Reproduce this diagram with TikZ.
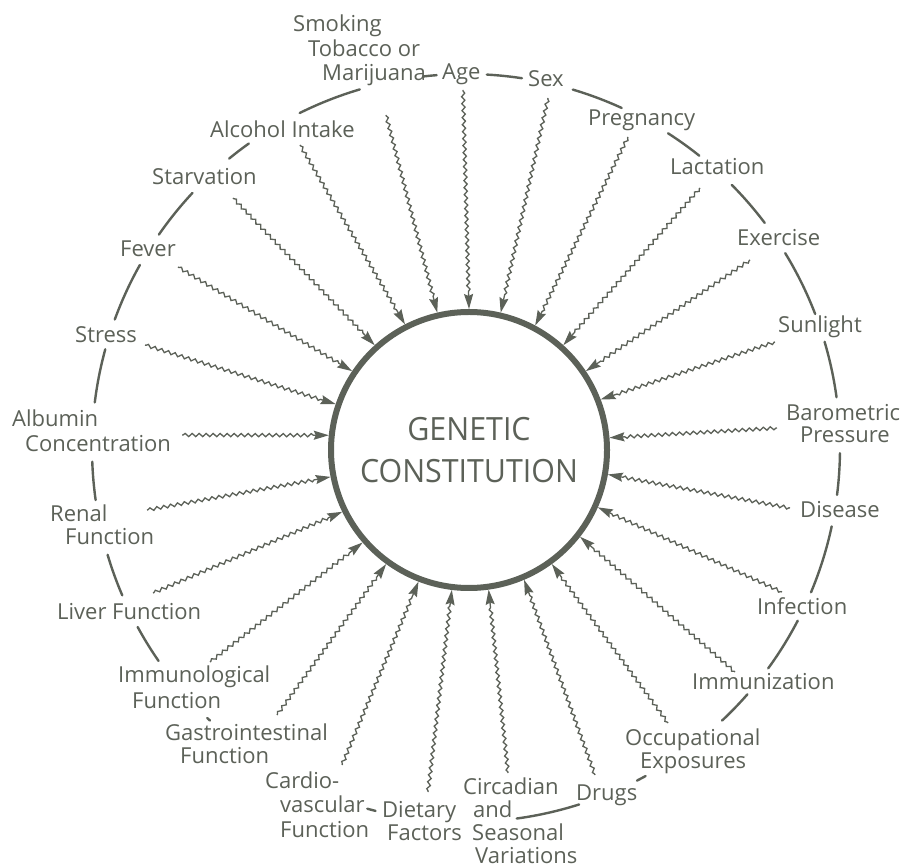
\documentclass[tikz,border=0pt]{standalone}
\usepackage{fontspec}
\setmainfont{Open Sans}
\newfontfamily\titlefont[FakeStretch=0.95]{Open Sans}
\usetikzlibrary{arrows.meta,decorations.pathmorphing,calc}
\definecolor{ink}{RGB}{92,97,88}
\begin{document}
\begin{tikzpicture}[x=1pt,y=1pt,
  lab/.style={anchor=base west, align=left, inner sep=0pt, text=ink, font=\fontsize{22}{24}\selectfont},
  wavy/.style={draw=ink, line width=1.3pt, decorate,
     decoration={snake, amplitude=1.6pt, segment length=7pt, post length=15pt, pre length=1pt},
     -{Stealth[length=15pt,width=9pt,inset=2pt]}},
  ring/.style={draw=ink, line width=2.4pt, line cap=round}]
\useasboundingbox (0,0) rectangle (901,867);
\fill[white] (0,0) rectangle (901,867);

% central circle
\node[circle, draw=ink, line width=6pt, minimum size=276pt, inner sep=0pt, text=ink,
      align=center, font=\titlefont\fontsize{32}{42}\selectfont] (gc) at (469,417) {GENETIC\\CONSTITUTION};

% labels (multi-line labels are anchored at the baseline of their last line)
\node[lab, font=\fontsize{22}{24.5}\selectfont] (smoking) at (293,786) {Smoking\\\hspace*{15pt}Tobacco or\\\hspace*{29pt}Marijuana};
\node[lab] (age) at (442,787) {Age};
\node[lab] (sex) at (528,780) {Sex};
\node[lab] (pregnancy) at (588,741) {Pregnancy};
\node[lab] (lactation) at (670,692) {Lactation};
\node[lab] (exercise) at (737,621) {Exercise};
\node[lab] (sunlight) at (778,534) {Sunlight};
\node[lab, font=\fontsize{22}{22}\selectfont] (barometric) at (786,424) {Barometric\\\hspace*{14pt}Pressure};
\node[lab] (disease) at (800,349) {Disease};
\node[lab] (infection) at (757,252) {Infection};
\node[lab] (immunization) at (692,177) {Immunization};
\node[lab, font=\fontsize{22}{23}\selectfont] (occupational) at (625,99) {Occupational\\\hspace*{15pt}Exposures};
\node[lab] (drugs) at (576,67) {Drugs};
\node[lab, font=\fontsize{22}{23}\selectfont] (circadian) at (463,4) {Circadian\\\hspace*{10pt}and\\\hspace*{9pt}Seasonal\\\hspace*{12pt}Variations};
\node[lab, font=\fontsize{22}{23}\selectfont] (dietary) at (382,27) {Dietary\\\hspace*{5pt}Factors};
\node[lab, font=\fontsize{22}{24.5}\selectfont] (cardio) at (265,30) {Cardio-\\\hspace*{15pt}vascular\\\hspace*{15pt}Function};
\node[lab, font=\fontsize{22}{23}\selectfont] (gastro) at (165,104) {Gastrointestinal\\\hspace*{15pt}Function};
\node[lab, font=\fontsize{22}{25}\selectfont] (immunological) at (118,159) {Immunological\\\hspace*{14pt}Function};
\node[lab] (liver) at (57,247) {Liver Function};
\node[lab, font=\fontsize{22}{23}\selectfont] (renal) at (50,322) {Renal\\\hspace*{15pt}Function};
\node[lab, font=\fontsize{22}{25}\selectfont] (albumin) at (12,415) {Albumin\\\hspace*{13pt}Concentration};
\node[lab] (stress) at (75,524) {Stress};
\node[lab] (fever) at (120,610) {Fever};
\node[lab] (starvation) at (152,682) {Starvation};
\node[lab] (alcohol) at (210,729) {Alcohol Intake};

% arrow start points
\coordinate (s-alcohol) at (300,722);
\coordinate (s-smoking) at (386,752);
\coordinate (s-age) at (463,777);
\coordinate (s-sex) at (548,769);
\coordinate (s-pregnancy) at (628,730);
\coordinate (s-lactation) at (700,679);
\coordinate (s-exercise) at (750,607);
\coordinate (s-sunlight) at (775,525);
\coordinate (s-barometric) at (777,439);
\coordinate (s-disease) at (790,359);
\coordinate (s-infection) at (782,275);
\coordinate (s-immunization) at (735,195);
\coordinate (s-occupational) at (668,144);
\coordinate (s-drugs) at (595,92);
\coordinate (s-circadian) at (508,94);
\coordinate (s-dietary) at (428,75);
\coordinate (s-cardio) at (342,102);
\coordinate (s-gastro) at (277,152);
\coordinate (s-immunological) at (210,205);
\coordinate (s-liver) at (153,274);
\coordinate (s-renal) at (147,357);
\coordinate (s-albumin) at (182,432);
\coordinate (s-stress) at (145,522);
\coordinate (s-fever) at (178,600);
\coordinate (s-starvation) at (233,669);

% wavy arrows
\foreach \n/\a in {alcohol/117.4, smoking/103.4, age/90.8, sex/77.1, pregnancy/62.6,
  lactation/48.0, exercise/34.4, sunlight/21.6, barometric/5.2, disease/-10.3,
  infection/-24.5, immunization/-38.9, occupational/-54.1, drugs/-67.1, circadian/-82.6,
  dietary/-97.4, cardio/-111.7, gastro/-126.6, immunological/-139.1, liver/-154.7,
  renal/-169.2, albumin/174.7, stress/161.4, fever/146.4, starvation/132.5}
  \draw[wavy] (s-\n) -- (gc.\a);

% outer ring segments
\coordinate (oc) at (466,419);
\foreach \a/\b in {96.6/94.5, 86.8/81.4, 73.4/65.4, 57.3/51.4, 44.7/37.0, 31.4/21.0,
  16.5/7.8, -0.8/-7.2, -12.1/-22.7, -27.5/-36.1, -41.2/-46.8, -61.3/-62.8,
  -72.4/-82.2, -104.0/-105.3, -133.2/-133.8, -145.3/-151.4, -156.8/-163.4,
  -172.0/-177.9, 164.7/173.0, 150.7/159.9, 137.0/145.2, 125.5/129.3, 106.5/116.4}
  \draw[ring] ($(oc)+(\a:374)$) arc[start angle=\a, end angle=\b, radius=374];
\end{tikzpicture}
\end{document}
